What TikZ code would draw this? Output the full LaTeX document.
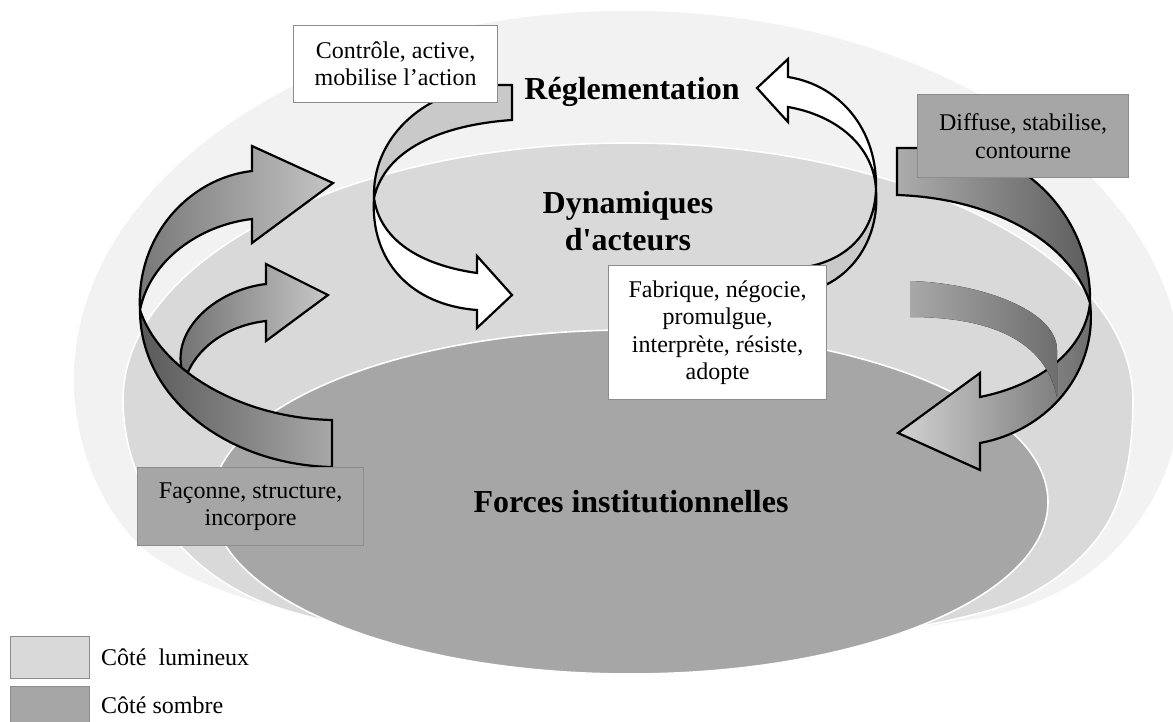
\documentclass[tikz,border=0pt]{standalone}
\usepackage{fontspec}
\setmainfont{Liberation Serif}
\definecolor{outerc}{HTML}{F2F2F2}
\definecolor{midc}{HTML}{D9D9D9}
\definecolor{darkc}{HTML}{A6A6A6}
\definecolor{boxline}{HTML}{8C8C8C}
\definecolor{ribgrey}{HTML}{C9C9C9}
\definecolor{bigUpL}{HTML}{777777}
\definecolor{bigUpR}{HTML}{C4C4C4}
\definecolor{bigLowL}{HTML}{595959}
\definecolor{bigLowR}{HTML}{A8A8A8}
\definecolor{smallL}{HTML}{6E6E6E}
\definecolor{smallR}{HTML}{C8C8C8}
\definecolor{rUpL}{HTML}{ACACAC}
\definecolor{rUpR}{HTML}{5C5C5C}
\definecolor{rLowL}{HTML}{D2D2D2}
\definecolor{rLowR}{HTML}{6A6A6A}
\definecolor{bandL}{HTML}{A8A8A8}
\definecolor{bandR}{HTML}{6E6E6E}
\begin{document}
\begin{tikzpicture}[x=1pt,y=-1pt,
  ribbon/.style={draw=black, line width=2.2pt, line join=miter, miter limit=6},
  tagbox/.style={draw=boxline, line width=1.2pt, inner sep=0pt, align=center,
    font=\fontsize{24}{27.3}\selectfont, anchor=north west},
  lbl/.style={font=\fontsize{32}{37}\selectfont\bfseries, align=center, inner sep=0pt},
  legbox/.style={draw=boxline, line width=1.2pt, inner sep=0pt, anchor=north west,
    minimum width=79pt},
  legtext/.style={font=\fontsize{24}{28}\selectfont, anchor=base west, inner sep=0pt},
  zone/.style={draw=white, line width=1.6pt}]
\useasboundingbox (0,0) rectangle (1173,722);
\clip (0,0) rectangle (1173,722);
\fill[white] (0,0) rectangle (1173,722);

% outer zone
\path[zone, fill=outerc] (73,380) .. controls (73,176) and (321.5,10) .. (628,10)
  .. controls (934.5,10) and (1183,176) .. (1183,380)
  .. controls (1183,460) and (1150,520) .. (1103,563)
  .. controls (1060,600) and (1010,615) .. (960,622)
  .. controls (850,640) and (720,650) .. (628,650)
  .. controls (500,650) and (380,635) .. (300,615)
  .. controls (240,600) and (185,580) .. (150,555)
  .. controls (105,520) and (73,450) .. (73,380) -- cycle;
% middle zone
\path[zone, fill=midc] (123,400) .. controls (123,258) and (349,143) .. (628,143)
  .. controls (907,143) and (1133,258) .. (1133,400)
  .. controls (1133,440) and (1128,475) .. (1117,503)
  .. controls (1100,550) and (1050,590) .. (1000,607)
  .. controls (930,630) and (760,655) .. (628,655)
  .. controls (500,655) and (340,630) .. (270,605)
  .. controls (215,585) and (170,545) .. (150,500)
  .. controls (130,465) and (123,430) .. (123,400) -- cycle;
% inner zone
\path[zone, fill=darkc] (630,502) ellipse [x radius=418pt, y radius=172pt];

% zone labels
\node[lbl, anchor=base] (regl) at (632,100) {Réglementation};
\node[lbl] (dyn) at (628,221) {Dynamiques\\d\textquotesingle acteurs};
\node[lbl, anchor=base] (forces) at (631,512) {Forces institutionnelles};

% left big arrow, upper part
\draw[ribbon, left color=bigUpL, right color=bigUpR]
  (140,310) .. controls (150,260) and (200,225) .. (252,219) -- (252,243) -- (333,183)
  -- (252,146) -- (252,171) .. controls (190,178) and (136,235) .. (140,310) -- cycle;
% left small arrow
\draw[ribbon, left color=smallL, right color=smallR]
  (182,370) .. controls (172,330) and (215,290) .. (266,284) -- (266,264) -- (328,295)
  -- (266,341) -- (266,321) .. controls (230,325) and (200,345) .. (188,372) -- cycle;
% left big arrow, lower part
\draw[ribbon, left color=bigLowL, right color=bigLowR]
  (140,310) .. controls (160,370) and (240,418) .. (332,420) -- (332,467)
  .. controls (230,465) and (140,400) .. (140,310) -- cycle;

% control ribbon
\draw[ribbon, fill=ribgrey]
  (374,198) .. controls (372,140) and (420,92) .. (490,85) -- (512,85) -- (512,120)
  .. controls (440,125) and (385,150) .. (374,198) -- cycle;
\draw[ribbon, fill=white]
  (374,198) .. controls (370,260) and (410,305) .. (477,310) -- (477,328) -- (512,295)
  -- (477,256) -- (477,273) .. controls (420,265) and (380,240) .. (374,198) -- cycle;
\node[tagbox, fill=white, minimum width=204pt, minimum height=77pt] (ctl) at (293,25)
  {Contrôle, active,\\mobilise l’action};

% regulation arrow
\draw[ribbon, fill=ribgrey]
  (876,190) .. controls (880,240) and (850,285) .. (800,293) -- (800,268)
  .. controls (845,262) and (874,235) .. (876,190) -- cycle;
\draw[ribbon, fill=white]
  (876,190) .. controls (878,130) and (840,85) .. (788,77) -- (788,59) -- (757,88)
  -- (788,122) -- (788,107) .. controls (835,115) and (874,145) .. (876,190) -- cycle;
\node[tagbox, fill=white, minimum width=218pt, minimum height=134pt] (fab) at (608,265)
  {Fabrique, négocie,\\promulgue,\\interprète, résiste,\\adopte};

% right ribbon
\draw[ribbon, left color=rUpL, right color=rUpR]
  (897,148) -- (960,148) .. controls (1040,160) and (1092,230) .. (1090,303)
  .. controls (1070,240) and (990,198) .. (897,195) -- cycle;
\draw[ribbon, left color=rLowL, right color=rLowR]
  (1090,303) .. controls (1098,370) and (1050,430) .. (980,443) -- (980,470) -- (898,433)
  -- (980,373) -- (980,397) .. controls (1040,385) and (1085,350) .. (1090,303) -- cycle;
\fill[left color=bandL, right color=bandR]
  (910,281) .. controls (980,283) and (1057,310) .. (1057,350) -- (1057,397)
  .. controls (1045,340) and (990,317) .. (910,317) -- cycle;
\node[tagbox, fill=darkc, minimum width=211pt, minimum height=83pt] (dif) at (917,94)
  {Diffuse, stabilise,\\contourne};

\node[tagbox, fill=darkc, minimum width=226pt, minimum height=78pt] (fac) at (137,467)
  {Façonne, structure,\\incorpore};

% legend
\node[legbox, fill=midc, minimum height=42pt] (leg1) at (10,636) {};
\node[legbox, fill=darkc, minimum height=44pt] (leg2) at (10,686) {};
\node[legtext] (legt1) at (101,665) {Côté~~lumineux};
\node[legtext] (legt2) at (101,713) {Côté sombre};
\end{tikzpicture}
\end{document}
